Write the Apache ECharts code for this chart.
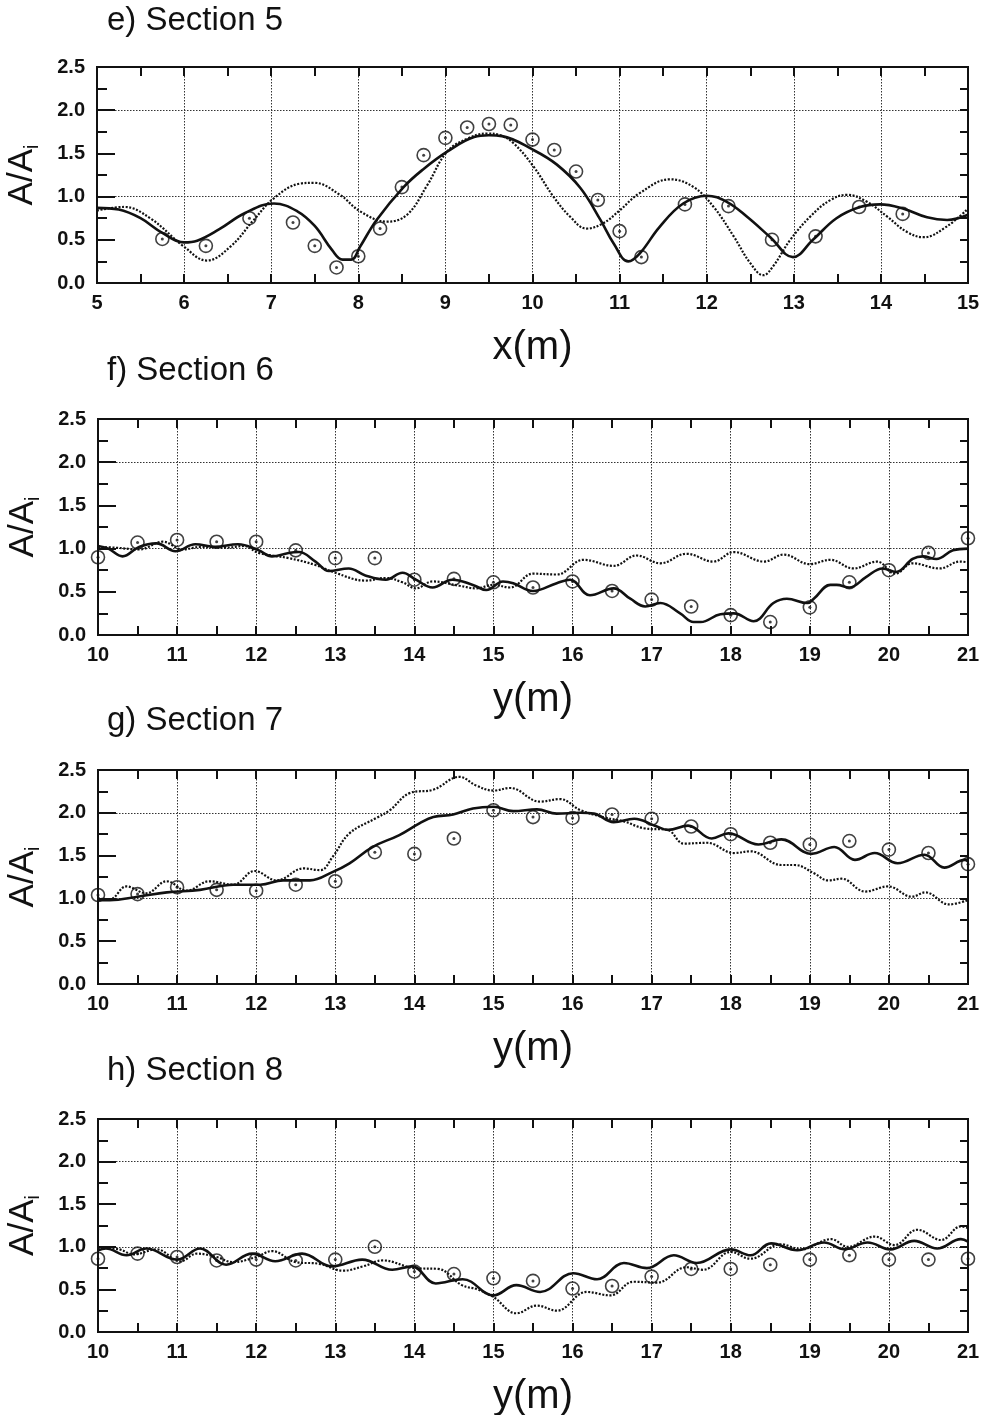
<!DOCTYPE html>
<html>
<head>
<meta charset="utf-8">
<script src="https://cdn.jsdelivr.net/npm/echarts@6/dist/echarts.min.js"></script>
<style>
html,body{margin:0;padding:0;background:#fff;}
#c{width:986px;height:1415px;}
</style>
</head>
<body>
<div id="c"></div>
<script>
// ---------- data ----------
const titles = ['e) Section 5', 'f) Section 6', 'g) Section 7', 'h) Section 8'];
const xNames = ['x(m)', 'y(m)', 'y(m)', 'y(m)'];
const xRanges = [[5, 15], [10, 21], [10, 21], [10, 21]];
const yTickLabels = ['0.0', '0.5', '1.0', '1.5', '2.0', '2.5'];

// Section 5
const sec5Solid = [[5.0,0.87],[5.25,0.85],[5.5,0.75],[5.75,0.58],[6.0,0.47],[6.15,0.49],[6.4,0.62],[6.7,0.81],[7.03,0.92],[7.3,0.83],[7.5,0.66],[7.7,0.38],[7.82,0.27],[7.92,0.27],[8.02,0.42],[8.21,0.73],[8.52,1.11],[8.75,1.32],[9.02,1.52],[9.33,1.69],[9.5,1.71],[9.65,1.70],[10.01,1.54],[10.28,1.37],[10.55,1.10],[10.78,0.73],[10.93,0.46],[11.1,0.25],[11.23,0.34],[11.46,0.65],[11.73,0.92],[12.0,1.01],[12.23,0.94],[12.46,0.77],[12.73,0.53],[12.99,0.30],[13.22,0.50],[13.49,0.75],[13.76,0.88],[13.99,0.91],[14.26,0.86],[14.53,0.76],[14.76,0.73],[15.0,0.79]];
const sec5Dotted = [[5.0,0.84],[5.31,0.88],[5.61,0.75],[6.0,0.42],[6.26,0.26],[6.53,0.42],[6.8,0.73],[7.03,0.98],[7.33,1.15],[7.49,1.16],[7.79,1.02],[8.02,0.83],[8.33,0.71],[8.56,0.79],[8.79,1.13],[9.02,1.52],[9.25,1.67],[9.48,1.73],[9.63,1.71],[9.78,1.62],[10.01,1.35],[10.24,1.0],[10.43,0.77],[10.62,0.63],[10.81,0.69],[11.0,0.84],[11.23,1.04],[11.58,1.2],[11.85,1.11],[12.08,0.88],[12.31,0.54],[12.5,0.23],[12.65,0.09],[12.76,0.19],[12.96,0.5],[13.19,0.77],[13.42,0.96],[13.61,1.02],[13.84,0.94],[14.07,0.77],[14.3,0.59],[14.49,0.53],[14.75,0.65],[15.0,0.86]];
const sec5MeasX = [5.75,6.25,6.75,7.25,7.5,7.75,8.0,8.25,8.5,8.75,9.0,9.25,9.5,9.75,10.0,10.25,10.5,10.75,11.0,11.25,11.75,12.25,12.75,13.25,13.75,14.25];
const sec5MeasY = [0.51,0.43,0.75,0.70,0.43,0.18,0.31,0.63,1.11,1.48,1.68,1.80,1.84,1.83,1.66,1.54,1.29,0.96,0.60,0.30,0.91,0.89,0.50,0.54,0.88,0.80];

// Section 6
const sec6Solid = [[10.0,1.03],[10.13,1.0],[10.31,0.91],[10.52,1.02],[10.74,1.06],[10.98,0.97],[11.23,1.05],[11.48,1.02],[11.77,1.05],[12.03,0.98],[12.2,0.91],[12.41,0.95],[12.54,0.96],[12.75,0.85],[12.92,0.74],[13.17,0.77],[13.38,0.69],[13.64,0.64],[13.85,0.72],[14.02,0.64],[14.23,0.55],[14.48,0.64],[14.74,0.58],[14.91,0.52],[15.12,0.62],[15.25,0.60],[15.5,0.51],[15.8,0.60],[15.97,0.64],[16.22,0.46],[16.52,0.54],[16.73,0.42],[16.92,0.33],[17.11,0.37],[17.36,0.25],[17.53,0.15],[17.62,0.15],[17.87,0.24],[18.04,0.25],[18.29,0.16],[18.54,0.37],[18.71,0.42],[18.97,0.37],[19.05,0.42],[19.26,0.58],[19.34,0.58],[19.5,0.55],[19.71,0.67],[19.92,0.77],[20.09,0.73],[20.3,0.88],[20.43,0.91],[20.6,0.88],[20.81,0.98],[21.0,1.0]];
const sec6Dotted = [[10.0,1.02],[10.23,1.01],[10.52,0.99],[10.82,1.08],[11.07,0.99],[11.3,1.02],[11.6,1.01],[11.85,1.03],[12.03,0.95],[12.41,0.89],[12.75,0.81],[13.0,0.72],[13.38,0.63],[13.64,0.66],[13.85,0.61],[14.02,0.54],[14.23,0.62],[14.57,0.57],[14.78,0.54],[15.0,0.58],[15.21,0.55],[15.5,0.71],[15.8,0.70],[16.14,0.87],[16.52,0.80],[16.81,0.92],[17.11,0.83],[17.44,0.94],[17.78,0.85],[18.04,0.96],[18.42,0.85],[18.67,0.93],[19.0,0.82],[19.26,0.87],[19.55,0.77],[19.85,0.85],[20.08,0.71],[20.3,0.83],[20.64,0.77],[20.9,0.85],[21.0,0.84]];
const sec6MeasX = [10,10.5,11,11.5,12,12.5,13,13.5,14,14.5,15,15.5,16,16.5,17,17.5,18,18.5,19,19.5,20,20.5,21];
const sec6MeasY = [0.90,1.07,1.10,1.08,1.08,0.98,0.89,0.89,0.64,0.65,0.61,0.55,0.62,0.51,0.41,0.33,0.23,0.15,0.32,0.61,0.75,0.95,1.12];

// Section 7
const sec7Solid = [[10.0,0.98],[10.15,0.98],[10.5,1.02],[10.87,1.07],[11.29,1.10],[11.71,1.16],[12.05,1.16],[12.34,1.21],[12.68,1.21],[12.97,1.31],[13.18,1.41],[13.47,1.60],[13.81,1.74],[14.07,1.88],[14.24,1.95],[14.49,1.98],[14.74,2.05],[15.0,2.07],[15.25,2.02],[15.55,2.04],[15.8,1.99],[16.1,2.0],[16.27,1.99],[16.52,1.89],[16.78,1.93],[17.04,1.85],[17.21,1.80],[17.46,1.85],[17.76,1.70],[17.97,1.76],[18.35,1.63],[18.64,1.69],[19.02,1.52],[19.31,1.60],[19.57,1.45],[19.82,1.53],[20.11,1.41],[20.45,1.51],[20.7,1.36],[20.96,1.45],[21.0,1.43]];
const sec7Dotted = [[10.0,1.0],[10.15,0.99],[10.36,1.14],[10.61,1.06],[10.87,1.20],[11.12,1.09],[11.41,1.20],[11.71,1.16],[11.98,1.32],[12.26,1.21],[12.6,1.35],[12.81,1.33],[12.97,1.49],[13.18,1.76],[13.52,1.94],[13.69,2.03],[13.94,2.23],[14.24,2.27],[14.57,2.42],[14.78,2.32],[15.0,2.26],[15.21,2.29],[15.59,2.13],[15.84,2.16],[16.1,2.03],[16.43,1.94],[16.65,1.90],[16.9,1.82],[17.2,1.80],[17.41,1.64],[17.7,1.65],[18.04,1.53],[18.25,1.55],[18.64,1.39],[18.81,1.39],[19.06,1.29],[19.23,1.21],[19.4,1.23],[19.7,1.08],[19.99,1.14],[20.29,1.02],[20.46,1.07],[20.76,0.93],[21.0,0.98]];
const sec7MeasX = [10,10.5,11,11.5,12,12.5,13,13.5,14,14.5,15,15.5,16,16.5,17,17.5,18,18.5,19,19.5,20,20.5,21];
const sec7MeasY = [1.04,1.05,1.13,1.10,1.09,1.16,1.20,1.54,1.52,1.70,2.03,1.95,1.94,1.98,1.93,1.84,1.75,1.65,1.63,1.67,1.57,1.53,1.40];

// Section 8
const sec8Solid = [[10.0,0.96],[10.1,0.98],[10.36,0.90],[10.61,0.98],[11.0,0.85],[11.29,0.98],[11.62,0.79],[11.95,0.92],[12.24,0.83],[12.58,0.92],[12.96,0.77],[13.34,0.85],[13.72,0.73],[13.97,0.77],[14.27,0.57],[14.61,0.62],[15.0,0.43],[15.29,0.55],[15.59,0.47],[16.01,0.69],[16.31,0.62],[16.65,0.81],[16.94,0.75],[17.28,0.90],[17.57,0.81],[18.0,0.97],[18.25,0.90],[18.51,1.04],[18.84,0.96],[19.18,1.05],[19.44,0.97],[19.73,1.05],[20.02,0.97],[20.32,1.07],[20.61,0.98],[20.91,1.09],[21.0,1.06]];
const sec8Dotted = [[10.0,0.99],[10.27,0.97],[10.45,0.91],[10.74,0.97],[11.04,0.83],[11.25,0.92],[11.5,0.88],[11.7,0.82],[12.0,0.88],[12.2,0.95],[12.5,0.82],[12.8,0.80],[13.1,0.72],[13.35,0.77],[13.6,0.84],[14.0,0.75],[14.3,0.74],[14.6,0.55],[14.8,0.50],[15.0,0.41],[15.29,0.22],[15.55,0.31],[15.8,0.25],[16.18,0.47],[16.48,0.43],[16.77,0.59],[17.07,0.58],[17.44,0.76],[17.65,0.73],[18.0,0.94],[18.25,0.86],[18.63,1.03],[18.89,0.97],[19.27,1.09],[19.48,1.00],[19.82,1.12],[20.07,1.02],[20.36,1.20],[20.66,1.08],[20.91,1.24],[21.0,1.22]];
const sec8MeasX = [10,10.5,11,11.5,12,12.5,13,13.5,14,14.5,15,15.5,16,16.5,17,17.5,18,18.5,19,19.5,20,20.5,21];
const sec8MeasY = [0.86,0.92,0.88,0.84,0.85,0.84,0.85,1.00,0.71,0.68,0.63,0.60,0.51,0.54,0.65,0.74,0.74,0.79,0.85,0.90,0.85,0.85,0.86];

const solids = [sec5Solid, sec6Solid, sec7Solid, sec8Solid];
const dotteds = [sec5Dotted, sec6Dotted, sec7Dotted, sec8Dotted];
const measX = [sec5MeasX, sec6MeasX, sec7MeasX, sec8MeasX];
const measY = [sec5MeasY, sec6MeasY, sec7MeasY, sec8MeasY];

// ---------- layout ----------
const gridBoxes = [
  {left: 97, top: 67, height: 216},
  {left: 98, top: 419, height: 216},
  {left: 98, top: 770, height: 214},
  {left: 98, top: 1119, height: 213}
];
const titleTops = [4, 354, 704, 1054];
const FONT = '"Liberation Sans", Arial, Helvetica, sans-serif';
const BLACK = '#111';

const option = {
  backgroundColor: '#fff',
  animation: false,
  title: [], grid: [], xAxis: [], yAxis: [], series: []
};

titles.forEach((t, i) => {
  const g = gridBoxes[i];
  option.title.push({
    text: t, left: 107, top: titleTops[i], padding: 0,
    textStyle: {fontFamily: FONT, fontSize: 33, fontWeight: 'normal', color: BLACK}
  });
  option.grid.push({
    left: g.left, right: 18, top: g.top, height: g.height,
    containLabel: false, outerBoundsMode: 'none',
    show: true, borderColor: BLACK, borderWidth: 2, backgroundColor: 'transparent'
  });
  const [xmin, xmax] = xRanges[i];
  const xa = option.xAxis.length;
  // main bottom x axis
  option.xAxis.push({
    type: 'value', gridIndex: i, min: xmin, max: xmax, interval: 1, position: 'bottom',
    name: xNames[i], nameLocation: 'middle', nameGap: 45,
    nameTextStyle: {fontFamily: FONT, fontSize: 40, color: BLACK},
    axisLine: {show: true, onZero: false, lineStyle: {color: BLACK, width: 2}},
    axisTick: {show: true, inside: true, length: 9, lineStyle: {color: BLACK, width: 2}},
    minorTick: {show: true, splitNumber: 2, length: 9, lineStyle: {color: BLACK, width: 2}},
    axisLabel: {fontFamily: FONT, fontSize: 20, fontWeight: 'bold', color: BLACK, margin: 10,
                showMinLabel: true, showMaxLabel: true},
    splitLine: {show: true, lineStyle: {color: '#333', width: 1, type: [1.5, 1.5]}}
  });
  // top mirror x axis
  option.xAxis.push({
    type: 'value', gridIndex: i, min: xmin, max: xmax, interval: 0.5, position: 'top',
    axisLine: {show: true, onZero: false, lineStyle: {color: BLACK, width: 2}},
    axisTick: {show: true, inside: true, length: 9, lineStyle: {color: BLACK, width: 2}},
    axisLabel: {show: false}, splitLine: {show: false}
  });
  const ya = option.yAxis.length;
  // left y axis
  option.yAxis.push({
    type: 'value', gridIndex: i, min: 0, max: 2.5, interval: 0.5, position: 'left',
    name: '{a|A/A}{s|i}', nameLocation: 'middle', nameGap: 55,
    nameTextStyle: {
      color: BLACK,
      rich: {
        a: {fontFamily: FONT, fontSize: 35, color: BLACK, lineHeight: 40},
        s: {fontFamily: FONT, fontSize: 20, color: BLACK, verticalAlign: 'bottom', lineHeight: 20}
      }
    },
    axisLine: {show: true, onZero: false, lineStyle: {color: BLACK, width: 2}},
    axisTick: {show: true, inside: true, length: 18, lineStyle: {color: BLACK, width: 2}},
    minorTick: {show: true, splitNumber: 2, length: 10, lineStyle: {color: BLACK, width: 2}},
    axisLabel: {fontFamily: FONT, fontSize: 20, fontWeight: 'bold', color: BLACK, margin: 12,
                formatter: v => yTickLabels[Math.round(v * 2)]},
    splitLine: {show: false}
  });
  // right mirror y axis
  option.yAxis.push({
    type: 'value', gridIndex: i, min: 0, max: 2.5, interval: 0.25, position: 'right',
    axisLine: {show: true, onZero: false, lineStyle: {color: BLACK, width: 2}},
    axisTick: {show: true, inside: true, length: 8, lineStyle: {color: BLACK, width: 2}},
    axisLabel: {show: false}, splitLine: {show: false}
  });
  // gridline-only y axis (dotted lines at 1.0 and 2.0)
  option.yAxis.push({
    type: 'value', gridIndex: i, min: 0, max: 2.5, interval: 1, position: 'left', offset: 0,
    axisLine: {show: false}, axisTick: {show: false}, axisLabel: {show: false},
    splitLine: {show: true, lineStyle: {color: '#333', width: 1, type: [1.5, 1.5]}}
  });

  option.series.push({
    type: 'line', xAxisIndex: xa, yAxisIndex: ya, data: dotteds[i], smooth: 0.4,
    showSymbol: false, symbol: 'none', z: 3,
    lineStyle: {color: BLACK, width: 2.2, type: [2, 1.6]}
  });
  option.series.push({
    type: 'line', xAxisIndex: xa, yAxisIndex: ya, data: solids[i], smooth: 0.4,
    showSymbol: false, symbol: 'none', z: 4,
    lineStyle: {color: BLACK, width: 2.6}
  });
  const pts = measX[i].map((x, k) => [x, measY[i][k]]);
  option.series.push({
    type: 'scatter', xAxisIndex: xa, yAxisIndex: ya, data: pts, symbol: 'circle', symbolSize: 13, z: 5,
    itemStyle: {color: 'rgba(255,255,255,0)', borderColor: BLACK, borderWidth: 1.6}
  });
  option.series.push({
    type: 'scatter', xAxisIndex: xa, yAxisIndex: ya, data: pts, symbol: 'circle', symbolSize: 3, z: 6,
    itemStyle: {color: BLACK}
  });
});

const chart = echarts.init(document.getElementById('c'), null, {renderer: 'canvas'});
chart.setOption(option);
</script>
</body>
</html>
